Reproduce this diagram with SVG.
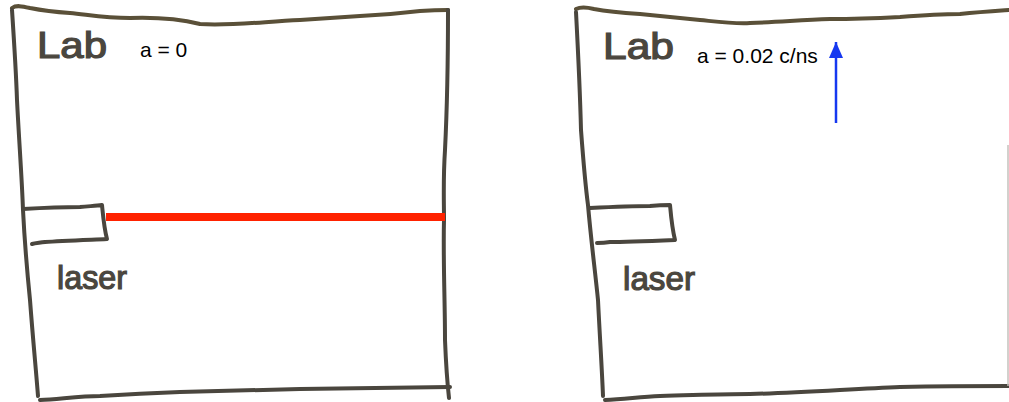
<svg xmlns="http://www.w3.org/2000/svg" width="1009" height="402" viewBox="0 0 1009 402">
  <style>
    .pen { fill: none; stroke: #4a463e; stroke-width: 4; stroke-linecap: round; stroke-linejoin: round; }
    .pentop { fill: none; stroke: #5a5038; stroke-width: 4; stroke-linecap: round; stroke-linejoin: round; }
    .faint { fill: none; stroke: #c4c2bc; stroke-width: 1.5; }
    .hand { font-family: "Liberation Sans", "DejaVu Sans", sans-serif; fill: #4a463e; stroke: #4a463e; stroke-width: 1.2; }
    .label { font-family: "Liberation Sans", Arial, sans-serif; font-size: 21px; fill: #000; }
  </style>
  <defs>
    <marker id="bluehead" markerWidth="16" markerHeight="14" refX="16" refY="7" orient="auto" markerUnits="userSpaceOnUse" viewBox="0 0 16 14">
      <path d="M0 0 L16 7 L0 14 Z" fill="#1638f0"/>
    </marker>
  </defs>
  <rect width="1009" height="402" fill="#ffffff"/>

  <g id="lab-left">
    <path class="pentop" d="M12 8 C16 5 22 6 30 8 C45 11 55 12 70 13 C90 15 105 18 130 18 C160 17 180 19 200 24 C230 26 260 22 300 20 C330 18 345 17 360 16 C380 15 395 14 420 11 C435 10 442 10 448 10"/>
    <path class="pen" d="M12 10 C14 40 16 70 17 100 C19 140 22 180 23 210 C25 250 28 280 30 300 C33 340 36 370 38 396"/>
    <path class="pen" d="M40 400 C60 399 80 396 100 396 C130 394 150 393 180 392 C230 391 270 390 300 389 C360 388 410 388 450 387"/>
    <path class="pen" d="M448 10 C448 60 447 110 445 150 C443 180 444 200 444 220 C443 260 445 300 445 340 C446 365 447 380 449 398"/>
    <g id="laser-left">
      <path class="pen" d="M23 209 C40 208 60 207 80 207 C90 206 96 206 102 205 C103 215 104 228 107 239 C85 240 60 241 45 242 C38 243 35 243 32 244"/>
      <text class="hand" x="57" y="289" font-size="33" textLength="70" lengthAdjust="spacingAndGlyphs">laser</text>
    </g>
    <text class="hand" x="37" y="58" font-size="36" textLength="70" lengthAdjust="spacingAndGlyphs">Lab</text>
    <text class="label" x="140" y="57">a = 0</text>
  </g>

  <g id="lab-right">
    <path class="pentop" d="M576 9 C580 7 586 7 594 9 C610 12 625 13 640 14 C660 16 680 18 700 20 C720 22 735 24 750 23 C780 22 800 20 830 19 C860 19 880 18 900 17 C925 15 940 14 960 14 C980 12 995 11 1009 10"/>
    <path class="pen" d="M576 12 C578 50 580 90 581 130 C584 170 586 190 588 205 C591 240 595 270 598 300 C600 340 602 370 603 396"/>
    <path class="pen" d="M605 400 C625 399 640 397 660 396 C700 395 720 394 750 394 C800 393 850 389 900 387 C950 386 985 386 1009 386"/>
    <path class="faint" d="M1008 145 L1008 386"/>
    <g id="laser-right">
      <path class="pen" d="M590 208 C610 207 630 206 650 206 C660 205 665 205 670 205 C671 216 672 228 675 240 C650 241 625 242 610 242 C604 243 600 243 597 243"/>
      <text class="hand" x="623" y="290" font-size="33" textLength="72" lengthAdjust="spacingAndGlyphs">laser</text>
    </g>
    <text class="hand" x="603" y="59" font-size="36" textLength="71" lengthAdjust="spacingAndGlyphs">Lab</text>
    <text class="label" x="697" y="63">a = 0.02 c/ns</text>
  </g>

  <g id="connectors">
    <line id="beam" x1="106" y1="217" x2="445" y2="217" stroke="#ff2200" stroke-width="8"/>
    <line id="accel" x1="836" y1="123" x2="836" y2="42" stroke="#1638f0" stroke-width="2.5" marker-end="url(#bluehead)"/>
  </g>
</svg>
